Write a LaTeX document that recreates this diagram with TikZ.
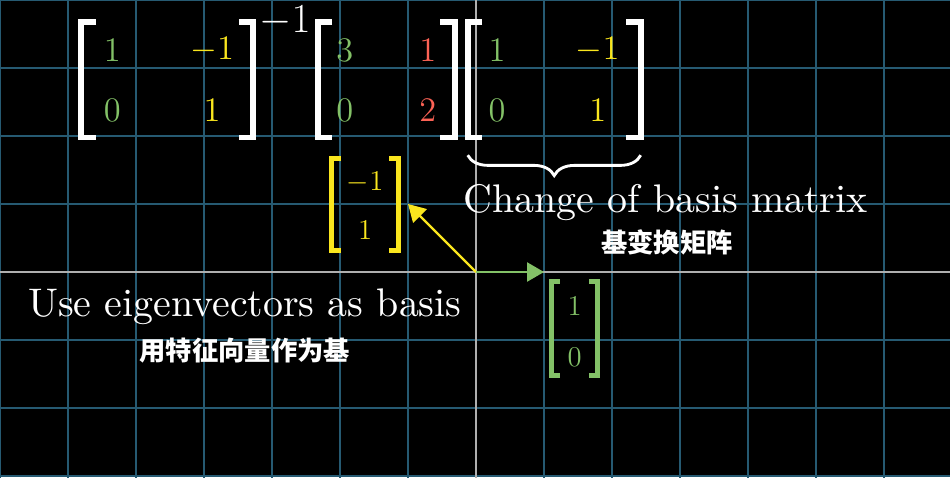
\documentclass[tikz,border=0pt]{standalone}
\usepackage{fontspec}
\newfontfamily\cjk{Noto Sans CJK SC}
\newfontfamily\lmten{lmroman10-regular.otf}
\usepackage{tikz}
\usetikzlibrary{arrows.meta, positioning, decorations.pathreplacing}
\usepackage{amsmath}
\usepackage{xcolor}
\definecolor{gridblue}{RGB}{38,90,114}
\definecolor{axisgray}{RGB}{175,175,175}
\definecolor{basegreen}{RGB}{131,193,103}
\definecolor{baseyellow}{RGB}{250,230,30}
\definecolor{basered}{RGB}{252,98,85}

\begin{document}
\begin{tikzpicture}[
    gridline/.style={draw=gridblue, line width=1pt},
    axisline/.style={draw=axisgray, line width=0.9pt},
    entry/.style={inner sep=0pt, font=\fontsize{15}{18}\selectfont},
    ventry/.style={inner sep=0pt, font=\fontsize{13}{16}\selectfont},
    matbox/.style={inner sep=0pt, minimum width=#1},
    bracket/.style={line width=2.5pt},
    vbracket/.style={line width=2pt},
    label en/.style={text=white, inner sep=0pt, anchor=base, font=\lmten\fontsize{16.7}{20}\selectfont},
    label zh/.style={text=white, inner sep=0pt, font=\cjk\bfseries\fontsize{11}{14}\selectfont},
    vec arrow/.style={line width=1pt, -{Triangle[length=0.25cm, width=0.28cm]}}
]
    % Background and plane
    \fill[black] (-7,-3.015) rectangle (6.97,4);
    \useasboundingbox (-7,-3.015) rectangle (6.97,4);
    \begin{scope}
        \clip (-7,-3.015) rectangle (6.97,4);
        \draw[gridline] (-7,-4) grid (7,4);
        \draw[axisline] (-7,0) -- (7,0);
        \draw[axisline] (0,-4) -- (0,4);
    \end{scope}

    % Matrix frames
    \node[matbox=2.51cm, minimum height=1.69cm] (M1) at (-4.54,2.83) {};
    \node[matbox=2.00cm, minimum height=1.69cm] (M2) at (-1.32,2.83) {};
    \node[matbox=2.53cm, minimum height=1.69cm] (M3) at (1.15,2.83) {};
    \node[matbox=0.97cm, minimum height=1.34cm] (V1) at (-1.63,0.99) {};
    \node[matbox=0.66cm, minimum height=1.36cm] (V2) at (1.45,-0.83) {};

    % Brackets
    \foreach \m in {M1, M2, M3} {
        \draw[bracket, white] ([xshift=0.21cm]\m.north west) -- (\m.north west) -- (\m.south west) -- ++(0.21,0);
        \draw[bracket, white] ([xshift=-0.21cm]\m.north east) -- (\m.north east) -- (\m.south east) -- ++(-0.21,0);
    }
    \draw[vbracket, baseyellow] ([xshift=0.14cm]V1.north west) -- (V1.north west) -- (V1.south west) -- ++(0.14,0);
    \draw[vbracket, baseyellow] ([xshift=-0.14cm]V1.north east) -- (V1.north east) -- (V1.south east) -- ++(-0.14,0);
    \draw[vbracket, basegreen] ([xshift=0.12cm]V2.north west) -- (V2.north west) -- (V2.south west) -- ++(0.12,0);
    \draw[vbracket, basegreen] ([xshift=-0.12cm]V2.north east) -- (V2.north east) -- (V2.south east) -- ++(-0.12,0);

    % Inverse of change of basis
    \node[entry, text=basegreen] (a11) at (-5.35,3.26) {$1$};
    \node[entry, text=baseyellow] (a12) at (-3.88,3.26) {$-1$};
    \node[entry, text=basegreen] (a21) at (-5.35,2.37) {$0$};
    \node[entry, text=baseyellow] (a22) at (-3.88,2.37) {$1$};
    \node[text=white, inner sep=0pt, anchor=base, font=\fontsize{17}{20}\selectfont] (inv) at (-2.81,3.52) {$-1$};

    % Transformation
    \node[entry, text=basegreen] (b11) at (-1.93,3.26) {$3$};
    \node[entry, text=basered] (b12) at (-0.71,3.26) {$1$};
    \node[entry, text=basegreen] (b21) at (-1.93,2.37) {$0$};
    \node[entry, text=basered] (b22) at (-0.71,2.37) {$2$};

    % Change of basis
    \node[entry, text=basegreen] (c11) at (0.31,3.26) {$1$};
    \node[entry, text=baseyellow] (c12) at (1.79,3.26) {$-1$};
    \node[entry, text=basegreen] (c21) at (0.31,2.37) {$0$};
    \node[entry, text=baseyellow] (c22) at (1.79,2.37) {$1$};

    % Eigenvectors
    \node[ventry, text=baseyellow] (y1) at (-1.63,1.31) {$-1$};
    \node[ventry, text=baseyellow] (y2) at (-1.63,0.62) {$1$};
    \node[ventry, text=basegreen] (g1) at (1.45,-0.51) {$1$};
    \node[ventry, text=basegreen] (g2) at (1.45,-1.25) {$0$};

    \coordinate (O) at (0,0);
    \coordinate (Ytip) at (-1,1);
    \coordinate (Gtip) at (1,0);
    \draw[vec arrow, draw=baseyellow, fill=baseyellow] (O) -- (Ytip);
    \draw[vec arrow, draw=basegreen, fill=basegreen] (O) -- (Gtip);

    % Brace and labels
    \draw[white, line width=1.2pt, decorate, decoration={brace, mirror, amplitude=0.3cm}]
        ([yshift=-0.26cm]M3.south west) -- ([yshift=-0.26cm]M3.south east);
    \node[label en] (cob) at (2.79,0.87) {Change of basis matrix};
    \node[label zh] (cobzh) at (2.81,0.43) {基变换矩阵};
    \node[label en] (eig) at (-3.40,-0.66) {Use eigenvectors as basis};
    \node[label zh] (eigzh) at (-3.40,-1.15) {用特征向量作为基};
\end{tikzpicture}
\end{document}
